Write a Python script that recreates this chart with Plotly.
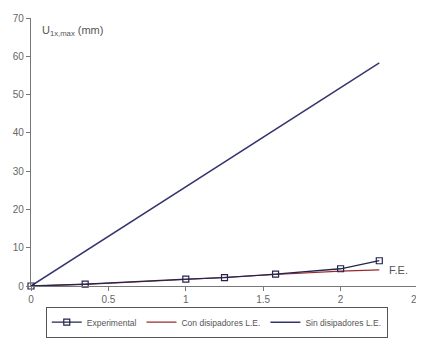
import plotly.graph_objects as go

fe_exp = [0, 0.35, 1.0, 1.25, 1.58, 2.0, 2.25]
u_exp = [0, 0.5, 1.8, 2.2, 3.1, 4.5, 6.6]

fe_con = [0, 0.35, 1.0, 1.25, 1.58, 2.0, 2.25]
u_con = [0, 0.4, 1.7, 2.2, 3.0, 3.9, 4.2]

fe_sin = [0, 2.25]
u_sin = [0, 58.3]

fig = go.Figure()
fig.add_trace(go.Scatter(x=fe_sin, y=u_sin, mode="lines", name="Sin disipadores L.E.",
                         line=dict(color="#34346e", width=1.5), cliponaxis=False))
fig.add_trace(go.Scatter(x=fe_con, y=u_con, mode="lines", name="Con disipadores L.E.",
                         line=dict(color="#9a2a2a", width=1.2), cliponaxis=False))
fig.add_trace(go.Scatter(x=fe_exp, y=u_exp, mode="lines+markers", name="Experimental",
                         line=dict(color="#24244e", width=1.3), cliponaxis=False,
                         marker=dict(symbol="square-open", size=6, color="#24244e",
                                     line=dict(width=1.2))))

fig.update_layout(
    width=424, height=347,
    margin=dict(l=23, r=14, t=10, b=69, autoexpand=False),
    paper_bgcolor="white", plot_bgcolor="white",
    font=dict(family="Liberation Sans, Arial", size=10, color="#666666"),
    showlegend=True,
    legend=dict(orientation="h", x=0.48, xanchor="center", y=-0.135, yanchor="middle",
                traceorder="reversed",
                bordercolor="#555555", borderwidth=1,
                font=dict(family="Liberation Sans, Arial", size=8.5, color="#555555"),
                itemwidth=30, tracegroupgap=0),
    xaxis=dict(range=[0, 2.5], tickvals=[0, 0.5, 1, 1.5, 2, 2.5],
               ticktext=["0", "0.5", "1", "1.5", "2", "2.5"], automargin=False,
               showgrid=False, zeroline=False, showline=True, linecolor="#777777",
               linewidth=1.2, ticks="outside", ticklen=4, tickcolor="#777777"),
    yaxis=dict(range=[0, 70], tickvals=list(range(0, 71, 10)), automargin=False,
               showgrid=False, zeroline=False, showline=True, linecolor="#777777",
               linewidth=1.2, ticks="outside", ticklen=4, tickcolor="#777777"),
    annotations=[
        dict(x=0.022, y=0.985, xref="paper", yref="paper", xanchor="left", yanchor="top",
             showarrow=False, text="U<sub>1x,max</sub> (mm)",
             font=dict(size=11, color="#555555")),
        dict(x=2.30, y=4.3, xref="x", yref="y", xanchor="left", yanchor="middle",
             showarrow=False, text="F.E.", font=dict(size=11, color="#555555")),
    ],
)

fig.write_html("out.html")
